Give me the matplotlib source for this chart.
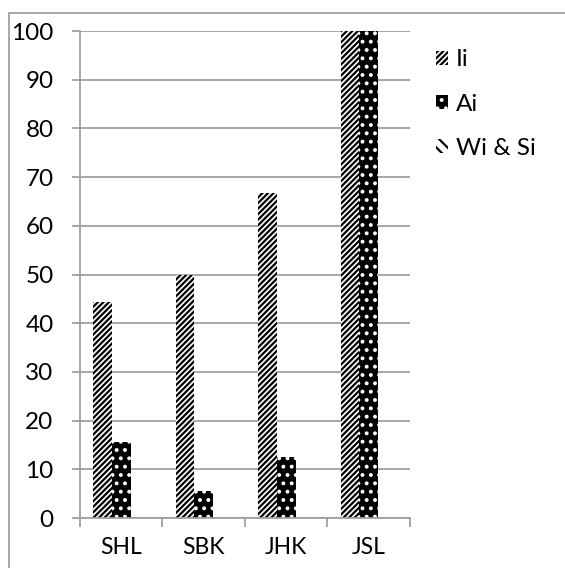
import numpy as np
import matplotlib.pyplot as plt
from matplotlib.patches import Rectangle

plt.rcParams['font.family'] = ['Lato', 'DejaVu Sans']
plt.rcParams['hatch.linewidth'] = 1.6

categories = ['SHL', 'SBK', 'JHK', 'JSL']
ii = [44.44, 50.0, 66.67, 100.0]
ai = [15.56, 5.56, 12.5, 100.0]
wi_si = [0, 0, 0, 0]

grey = '#a0a0a0'

fig = plt.figure(figsize=(5.65, 5.68), dpi=100)
ax = fig.add_axes([0.1416, 0.088, 0.584, 0.8574])

# outer chart frame (only left and top edges fall inside the image)
fig.patches.append(Rectangle((9 / 565, -0.1), 1.2, 1 - 13 / 568 + 0.1,
                             transform=fig.transFigure, fill=False,
                             edgecolor=grey, linewidth=1.3))

centers = np.arange(len(categories)) + 0.5
w = 0.227
ax.bar(centers - w, ii, width=w, color='white', edgecolor='black',
       hatch='//////', linewidth=0, label='Ii')
ax.bar(centers, ai, width=w, color='black', edgecolor='white',
       hatch='..', linewidth=0, label='Ai')
ax.bar(centers + w, wi_si, width=w, color='white', edgecolor='black',
       hatch='\\\\\\', linewidth=0, label='Wi & Si')

ax.set_xlim(0, len(categories))
ax.set_ylim(0, 100)
ax.set_yticks(np.arange(0, 101, 10))
ax.yaxis.grid(True, color=grey, linewidth=1.3)
ax.set_axisbelow(True)

# category boundaries as major ticks, names on minor ticks at centers
ax.set_xticks(np.arange(len(categories) + 1))
ax.set_xticklabels([])
ax.set_xticks(centers, minor=True)
ax.set_xticklabels(categories, minor=True)
ax.tick_params(axis='x', which='major', length=6.5, color=grey, width=1.3)
ax.tick_params(axis='x', which='minor', length=0, pad=14, labelsize=16.5)
ax.tick_params(axis='y', length=6, color=grey, width=1.3, pad=13,
               labelsize=17.5)

for s in ['top', 'right']:
    ax.spines[s].set_visible(False)
for s in ['left', 'bottom']:
    ax.spines[s].set_color(grey)
    ax.spines[s].set_linewidth(1.3)

ax.legend(loc='upper left', bbox_to_anchor=(0.755, 0.93),
          bbox_transform=fig.transFigure, frameon=False, fontsize=17.5,
          handlelength=0.5, handleheight=0.55, handletextpad=0.3,
          labelspacing=0.95, borderaxespad=0)

fig.savefig('out.png', dpi=100)
